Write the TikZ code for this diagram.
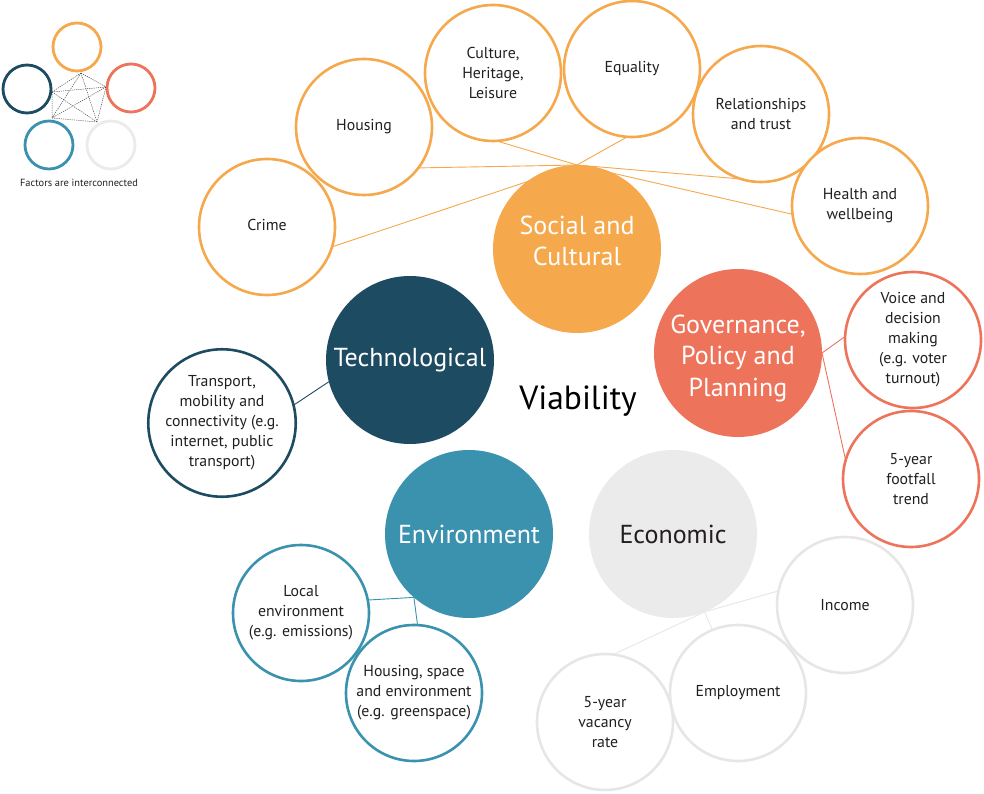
\documentclass[tikz,border=0pt]{standalone}
\usepackage{fontspec}
\setmainfont{PT Sans}
\usetikzlibrary{backgrounds}
\definecolor{cSoc}{HTML}{F5A84C}
\definecolor{cTech}{HTML}{1D4B62}
\definecolor{cGov}{HTML}{EE735B}
\definecolor{cEnv}{HTML}{3A92AE}
\definecolor{cEco}{HTML}{EBEBEB}
\definecolor{cEcoLine}{HTML}{E6E6E6}
\definecolor{txt}{HTML}{231F20}
\begin{document}
\begin{tikzpicture}[x=1pt,y=-1pt,
  bigc/.style={circle, inner sep=0pt, outer sep=0pt, minimum size=168pt, align=center,
    font=\fontsize{26}{31.5}\selectfont, text=white},
  bigtxt/.style={align=center, font=\fontsize{26}{31.5}\selectfont, text=white, inner sep=0pt},
  subc/.style={circle, inner sep=0pt, outer sep=0pt, minimum size=136pt, line width=2.6pt,
    fill=white, align=center, font=\fontsize{15.8}{20}\selectfont, text=txt},
  legc/.style={circle, inner sep=0pt, outer sep=0pt, minimum size=48pt, line width=2.8pt},
  conn/.style={line width=0.9pt},
  legline/.style={line width=0.5pt, draw=black!70, dash pattern=on 1.2pt off 1pt}]
\useasboundingbox (0,0) rectangle (984,794);

% legend
\node[legc, draw=cSoc] (lsoc) at (77,47) {};
\node[legc, draw=cTech] (ltech) at (27,89) {};
\node[legc, draw=cGov] (lgov) at (131,88) {};
\node[legc, draw=cEnv] (lenv) at (49,145) {};
\node[legc, draw=cEco] (leco) at (111,145) {};
\coordinate (p1) at (81,73);
\coordinate (p2) at (52,92);
\coordinate (p3) at (106,87);
\coordinate (p4) at (52,118);
\coordinate (p5) at (97,122);
\draw[legline] (p1) -- (p2) (p1) -- (p3) (p1) -- (p4) (p1) -- (p5)
  (p2) -- (p3) (p2) -- (p4) (p2) -- (p5) (p3) -- (p4) (p3) -- (p5) (p4) -- (p5);
\node[font=\fontsize{10.4}{12}\selectfont, text=txt] (legtxt) at (79,183) {Factors are interconnected};

% main circles
\node[bigc, fill=cSoc, label={[bigtxt, yshift=8pt]center:Social and\\Cultural}] (soc) at (577,249) {};
\node[bigc, fill=cTech] (tech) at (410,360) {Technological};
\node[bigc, fill=cGov, label={[bigtxt, yshift=-5pt]center:Governance,\\Policy and\\Planning}] (gov) at (738,353) {};
\node[bigc, fill=cEnv] (env) at (469,534) {Environment};
\node[bigc, fill=cEco, text=txt] (eco) at (673,534) {Economic};
\node[font=\fontsize{33.5}{40}\selectfont, text=black] (via) at (578,401) {Viability};

% social sub circles
\node[subc, draw=cSoc] (crime) at (267,227) {\raisebox{4pt}{Crime}};
\node[subc, draw=cSoc] (housing) at (364,127) {\raisebox{4pt}{Housing}};
\node[subc, draw=cSoc] (culture) at (493,73) {Culture,\\Heritage,\\Leisure};
\node[subc, draw=cSoc] (equality) at (632,69) {\raisebox{4pt}{Equality}};
\node[subc, draw=cSoc] (relat) at (761,114) {Relationships\\and trust};
\node[subc, draw=cSoc] (health) at (860,206) {Health and\\wellbeing};

% governance sub circles
\node[subc, draw=cGov] (voice) at (913,340) {Voice and\\decision\\making\\(e.g. voter\\turnout)};
\node[subc, draw=cGov] (foot) at (911,479) {5-year\\footfall\\trend};

% technological sub circle
\node[subc, draw=cTech] (transp) at (222,423) {Transport,\\mobility and\\connectivity (e.g.\\internet, public\\transport)};

% environment sub circles
\node[subc, draw=cEnv] (local) at (301,613) {Local\\environment\\(e.g. emissions)};
\node[subc, draw=cEnv] (hspace) at (414,693) {Housing, space\\and environment\\(e.g. greenspace)};

% economic sub circles
\node[subc, draw=cEcoLine] (income) at (845,605) {Income};
\node[subc, draw=cEcoLine] (employ) at (738,693) {Employment};
\node[subc, draw=cEcoLine] (vacancy) at (605,722) {5-year\\vacancy\\rate};

% connectors
\begin{pgfonlayer}{background}
\draw[conn, cSoc] (soc.north) -- (crime.343);
\draw[conn, cSoc] (soc.north) -- (housing.323);
\draw[conn, cSoc] (soc.north) -- (culture.273);
\draw[conn, cSoc] (soc.north) -- (equality.266);
\draw[conn, cSoc] (soc.north) -- (relat.253);
\draw[conn, cSoc] (soc.north) -- (health.187);
\draw[conn, cGov] (gov.east) -- (voice.177);
\draw[conn, cGov] (gov.east) -- (foot.164);
\draw[conn, cTech] (tech.195) -- (transp.14);
\draw[conn, cEnv] (env.229) -- (local.11);
\draw[conn, cEnv] (env.229) -- (hspace.87);
\draw[conn, cEcoLine] (eco.292) -- (income.168);
\draw[conn, cEcoLine] (eco.292) -- (employ.112);
\draw[conn, cEcoLine] (eco.292) -- (vacancy.83);
\end{pgfonlayer}
\end{tikzpicture}
\end{document}
